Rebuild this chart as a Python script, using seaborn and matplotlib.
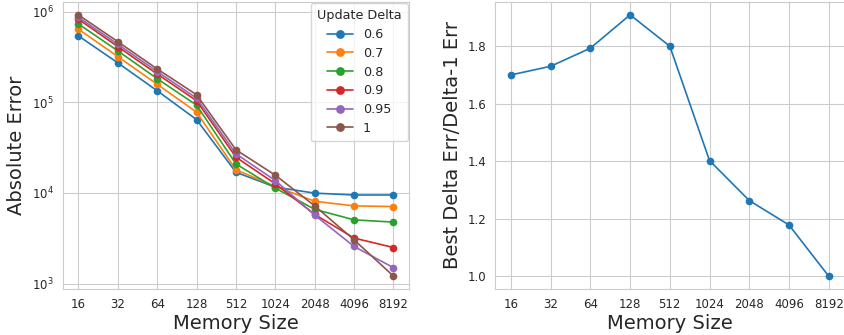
import matplotlib
matplotlib.use("Agg")
import matplotlib.pyplot as plt
import pandas as pd
import seaborn as sns

# -----------------------------
# Data
# -----------------------------
memory_sizes = ["16", "32", "64", "128", "512", "1024", "2048", "4096", "8192"]
deltas = ["0.6", "0.7", "0.8", "0.9", "0.95", "1"]

err_06 = [540e3, 272e3, 134e3, 64.4e3, 16.9e3, 11.6e3, 9.95e3, 9.5e3, 9.5e3]
err_07 = [640e3, 319e3, 158e3, 77.8e3, 18.0e3, 11.8e3, 8.1e3, 7.2e3, 7.08e3]
err_08 = [731e3, 369e3, 182e3, 93e3, 20.9e3, 11.3e3, 6.6e3, 5.05e3, 4.77e3]
err_09 = [825e3, 411e3, 205e3, 104e3, 24.8e3, 12.6e3, 5.8e3, 3.18e3, 2.5e3]
err_095 = [866e3, 436e3, 218e3, 111e3, 27e3, 13.7e3, 5.7e3, 2.57e3, 1.5e3]
err_1 = [920e3, 466e3, 233e3, 121e3, 29.9e3, 15.7e3, 7.2e3, 3.04e3, 1.21e3]

ratio = [1.70, 1.73, 1.793, 1.909, 1.80, 1.402, 1.263, 1.178, 1.0]

errors = [err_06, err_07, err_08, err_09, err_095, err_1]

rows = []
for d, vals in zip(deltas, errors):
    for m, v in zip(memory_sizes, vals):
        rows.append({"Memory Size": m, "Update Delta": d, "Absolute Error": v})
df = pd.DataFrame(rows)
ratio_df = pd.DataFrame({"Memory Size": memory_sizes, "Ratio": ratio})

# -----------------------------
# Plot
# -----------------------------
sns.set_style("whitegrid")
plt.rcParams["font.family"] = ["DejaVu Sans"]

fig = plt.figure(figsize=(8.44, 3.35), dpi=100)
ax1 = fig.add_axes([0.0742, 0.1367, 0.4107, 0.858])
ax2 = fig.add_axes([0.5865, 0.1367, 0.4142, 0.858])

sns.lineplot(data=df, x="Memory Size", y="Absolute Error", hue="Update Delta",
             hue_order=deltas, palette="tab10", marker="o", markersize=5.5,
             markeredgewidth=0, linewidth=1.2, sort=False, ax=ax1)
ax1.set_yscale("log")
ax1.set_xlabel("Memory Size", fontsize=14, labelpad=2)
ax1.set_ylabel("Absolute Error", fontsize=14)
ax1.tick_params(labelsize=8.5, pad=3)
leg = ax1.legend(title="Update Delta", loc="upper right", fontsize=9.2,
                 title_fontsize=9.2, borderaxespad=0.1, borderpad=0.5,
                 markerscale=1.15, labelspacing=0.45)

sns.lineplot(data=ratio_df, x="Memory Size", y="Ratio", color="#1f77b4",
             marker="o", markersize=5.5, markeredgewidth=0, linewidth=1.2,
             sort=False, ax=ax2)
ax2.set_xlabel("Memory Size", fontsize=14, labelpad=2)
ax2.set_ylabel("Best Delta Err/Delta-1 Err", fontsize=14)
ax2.tick_params(labelsize=8.5, pad=3)

fig.savefig("out.png", dpi=100)
